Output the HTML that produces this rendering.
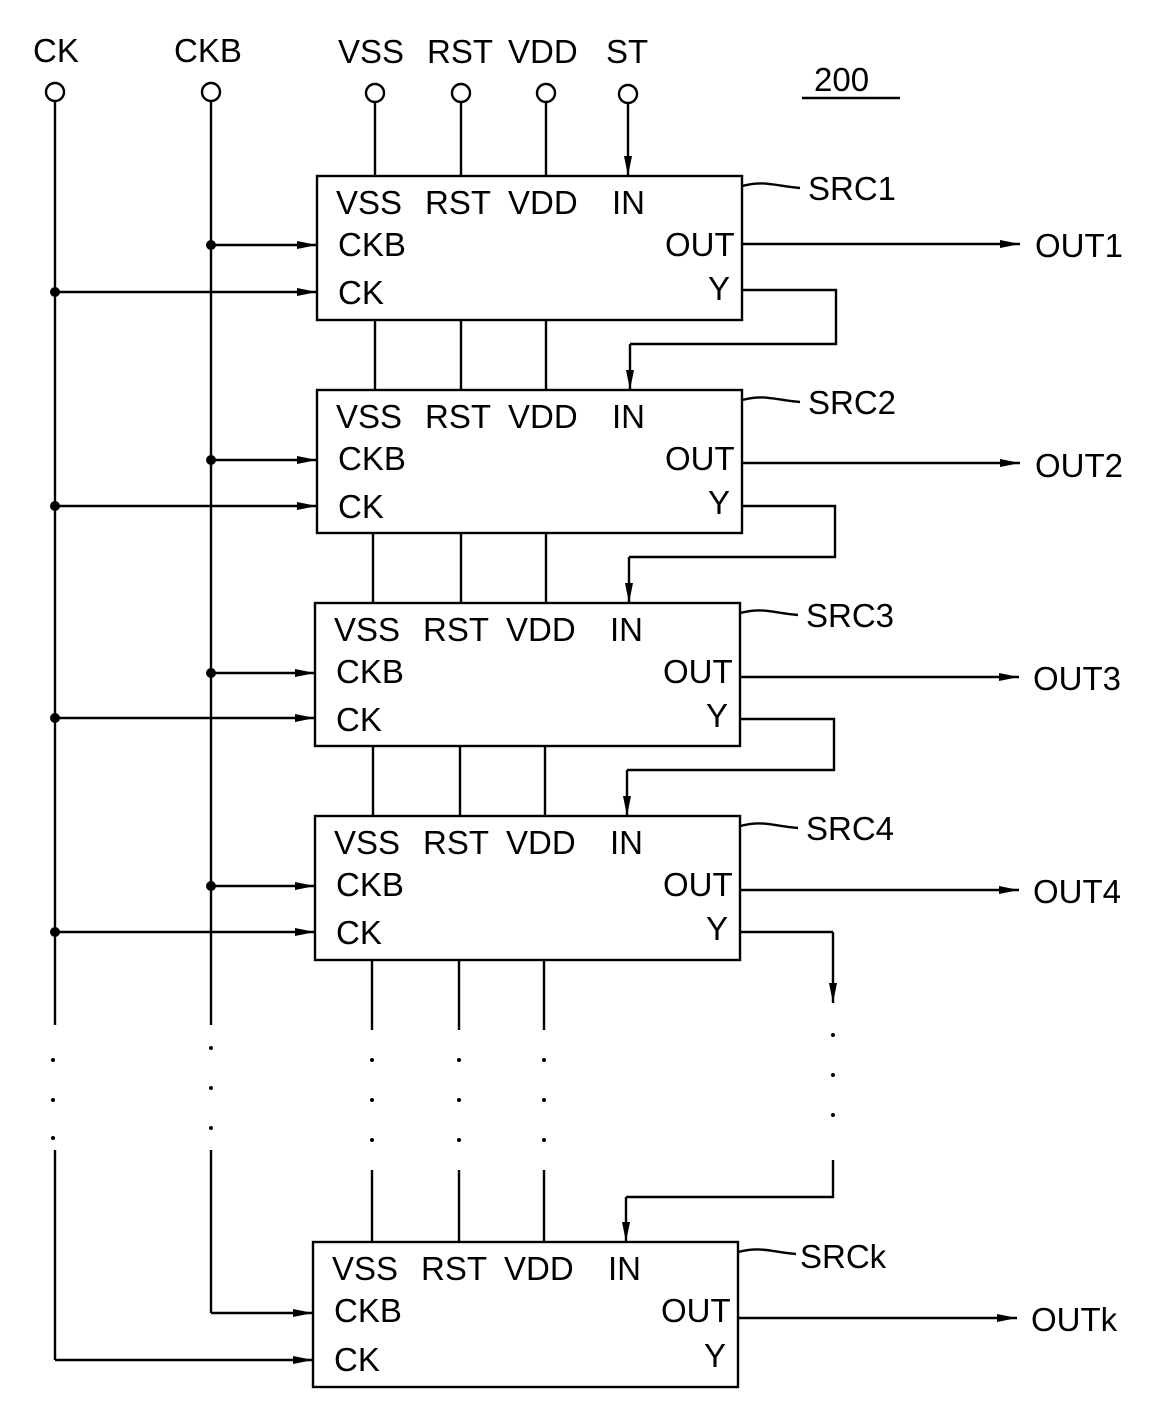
<!DOCTYPE html>
<html><head><meta charset="utf-8"><style>
html,body{margin:0;padding:0;background:#fff;}
svg{display:block;}
text{font-family:"Liberation Sans",sans-serif;font-size:33px;fill:#000;}
</style></head><body>
<svg width="1150" height="1411" viewBox="0 0 1150 1411" xmlns="http://www.w3.org/2000/svg">
<defs>
<marker id="a" markerWidth="20" markerHeight="10" refX="20" refY="5" orient="auto" markerUnits="userSpaceOnUse">
<path d="M0,1 L20,5 L0,9 Z" fill="#000"/></marker>
</defs>
<g stroke="#000" stroke-width="2.4" fill="none">
<circle cx="55" cy="92" r="9" fill="#fff"/>
<circle cx="211" cy="92" r="9" fill="#fff"/>
<circle cx="375" cy="93" r="9" fill="#fff"/>
<circle cx="461" cy="93" r="9" fill="#fff"/>
<circle cx="546" cy="93" r="9" fill="#fff"/>
<circle cx="628" cy="94" r="9" fill="#fff"/>
<line x1="55" y1="101" x2="55" y2="1025"/>
<line x1="211" y1="101" x2="211" y2="1025"/>
<line x1="55" y1="1150" x2="55" y2="1360"/><line x1="55" y1="1360" x2="313" y2="1360" marker-end="url(#a)"/>
<line x1="211" y1="1150" x2="211" y2="1313"/><line x1="211" y1="1313" x2="313" y2="1313" marker-end="url(#a)"/>
<line x1="375" y1="102" x2="375" y2="176"/>
<line x1="461" y1="102" x2="461" y2="176"/>
<line x1="546" y1="102" x2="546" y2="176"/>
<line x1="628" y1="103" x2="628" y2="176" marker-end="url(#a)"/>
<line x1="802" y1="98" x2="900" y2="98"/>
<rect x="317" y="176" width="425" height="144"/>
<rect x="317" y="390" width="425" height="143"/>
<rect x="315" y="603" width="425" height="143"/>
<rect x="315" y="816" width="425" height="144"/>
<rect x="313" y="1242" width="425" height="145"/>
<path d="M375 320V390M461 320V390M546 320V390"/>
<path d="M373 533V603M461 533V603M546 533V603"/>
<path d="M373 746V816M460 746V816M545 746V816"/>
<path d="M372 960V1030M459 960V1030M544 960V1030"/>
<path d="M372 1170V1242M459 1170V1242M544 1170V1242"/>
<path d="M742 290H836V344H630"/><line x1="630" y1="344" x2="630" y2="390" marker-end="url(#a)"/>
<path d="M742 506H835V557H629"/><line x1="629" y1="557" x2="629" y2="603" marker-end="url(#a)"/>
<path d="M740 719H834V770H627"/><line x1="627" y1="770" x2="627" y2="816" marker-end="url(#a)"/>
<path d="M740 932H833"/><line x1="833" y1="932" x2="833" y2="1003" marker-end="url(#a)"/>
<path d="M833 1160V1197H626"/><line x1="626" y1="1197" x2="626" y2="1242" marker-end="url(#a)"/>
<line x1="742" y1="244" x2="1020" y2="244" marker-end="url(#a)"/>
<line x1="742" y1="463" x2="1020" y2="463" marker-end="url(#a)"/>
<line x1="740" y1="677" x2="1019" y2="677" marker-end="url(#a)"/>
<line x1="740" y1="890" x2="1019" y2="890" marker-end="url(#a)"/>
<line x1="738" y1="1318" x2="1017" y2="1318" marker-end="url(#a)"/>
<line x1="211" y1="245" x2="317" y2="245" marker-end="url(#a)"/>
<line x1="55" y1="292" x2="317" y2="292" marker-end="url(#a)"/>
<line x1="211" y1="460" x2="317" y2="460" marker-end="url(#a)"/>
<line x1="55" y1="506" x2="317" y2="506" marker-end="url(#a)"/>
<line x1="211" y1="673" x2="315" y2="673" marker-end="url(#a)"/>
<line x1="55" y1="718" x2="315" y2="718" marker-end="url(#a)"/>
<line x1="211" y1="886" x2="315" y2="886" marker-end="url(#a)"/>
<line x1="55" y1="932" x2="315" y2="932" marker-end="url(#a)"/>
<path d="M742 186C765 180 775 186 800 188"/>
<path d="M742 400C765 394 775 400 800 402"/>
<path d="M740 613C763 607 773 613 798 615"/>
<path d="M740 826C763 820 773 826 798 828"/>
<path d="M738 1252C761 1246 771 1252 796 1254"/>
</g>
<g fill="#000">
<circle cx="211" cy="245" r="5"/><circle cx="55" cy="292" r="5"/>
<circle cx="211" cy="460" r="5"/><circle cx="55" cy="506" r="5"/>
<circle cx="211" cy="673" r="5"/><circle cx="55" cy="718" r="5"/>
<circle cx="211" cy="886" r="5"/><circle cx="55" cy="932" r="5"/>
<circle cx="53" cy="1060" r="2"/><circle cx="53" cy="1100" r="2"/><circle cx="53" cy="1138" r="2"/>
<circle cx="211" cy="1048" r="2"/><circle cx="211" cy="1088" r="2"/><circle cx="211" cy="1128" r="2"/>
<circle cx="372" cy="1060" r="2"/><circle cx="372" cy="1100" r="2"/><circle cx="372" cy="1140" r="2"/>
<circle cx="459" cy="1060" r="2"/><circle cx="459" cy="1100" r="2"/><circle cx="459" cy="1140" r="2"/>
<circle cx="544" cy="1060" r="2"/><circle cx="544" cy="1100" r="2"/><circle cx="544" cy="1140" r="2"/>
<circle cx="833" cy="1035" r="2"/><circle cx="833" cy="1075" r="2"/><circle cx="833" cy="1115" r="2"/>
</g>
<g>
<text x="33" y="62">CK</text><text x="174" y="62">CKB</text>
<text x="338" y="63">VSS</text><text x="427" y="63">RST</text><text x="508" y="63">VDD</text><text x="606" y="63">ST</text>
<text x="814" y="91">200</text>
</g>
<g>
<text x="336" y="214">VSS</text><text x="425" y="214">RST</text><text x="508" y="214">VDD</text><text x="612" y="214">IN</text>
<text x="338" y="256">CKB</text><text x="665" y="256">OUT</text>
<text x="338" y="304">CK</text><text x="708" y="300">Y</text>
<text x="808" y="200">SRC1</text><text x="1035" y="257">OUT1</text>

<text x="336" y="428">VSS</text><text x="425" y="428">RST</text><text x="508" y="428">VDD</text><text x="612" y="428">IN</text>
<text x="338" y="470">CKB</text><text x="665" y="470">OUT</text>
<text x="338" y="518">CK</text><text x="708" y="514">Y</text>
<text x="808" y="414">SRC2</text><text x="1035" y="477">OUT2</text>

<text x="334" y="641">VSS</text><text x="423" y="641">RST</text><text x="506" y="641">VDD</text><text x="610" y="641">IN</text>
<text x="336" y="683">CKB</text><text x="663" y="683">OUT</text>
<text x="336" y="731">CK</text><text x="706" y="727">Y</text>
<text x="806" y="627">SRC3</text><text x="1033" y="690">OUT3</text>

<text x="334" y="854">VSS</text><text x="423" y="854">RST</text><text x="506" y="854">VDD</text><text x="610" y="854">IN</text>
<text x="336" y="896">CKB</text><text x="663" y="896">OUT</text>
<text x="336" y="944">CK</text><text x="706" y="940">Y</text>
<text x="806" y="840">SRC4</text><text x="1033" y="903">OUT4</text>

<text x="332" y="1280">VSS</text><text x="421" y="1280">RST</text><text x="504" y="1280">VDD</text><text x="608" y="1280">IN</text>
<text x="334" y="1322">CKB</text><text x="661" y="1322">OUT</text>
<text x="334" y="1371">CK</text><text x="704" y="1367">Y</text>
<text x="800" y="1268">SRCk</text><text x="1031" y="1331">OUTk</text>
</g>
</svg>
</body></html>
